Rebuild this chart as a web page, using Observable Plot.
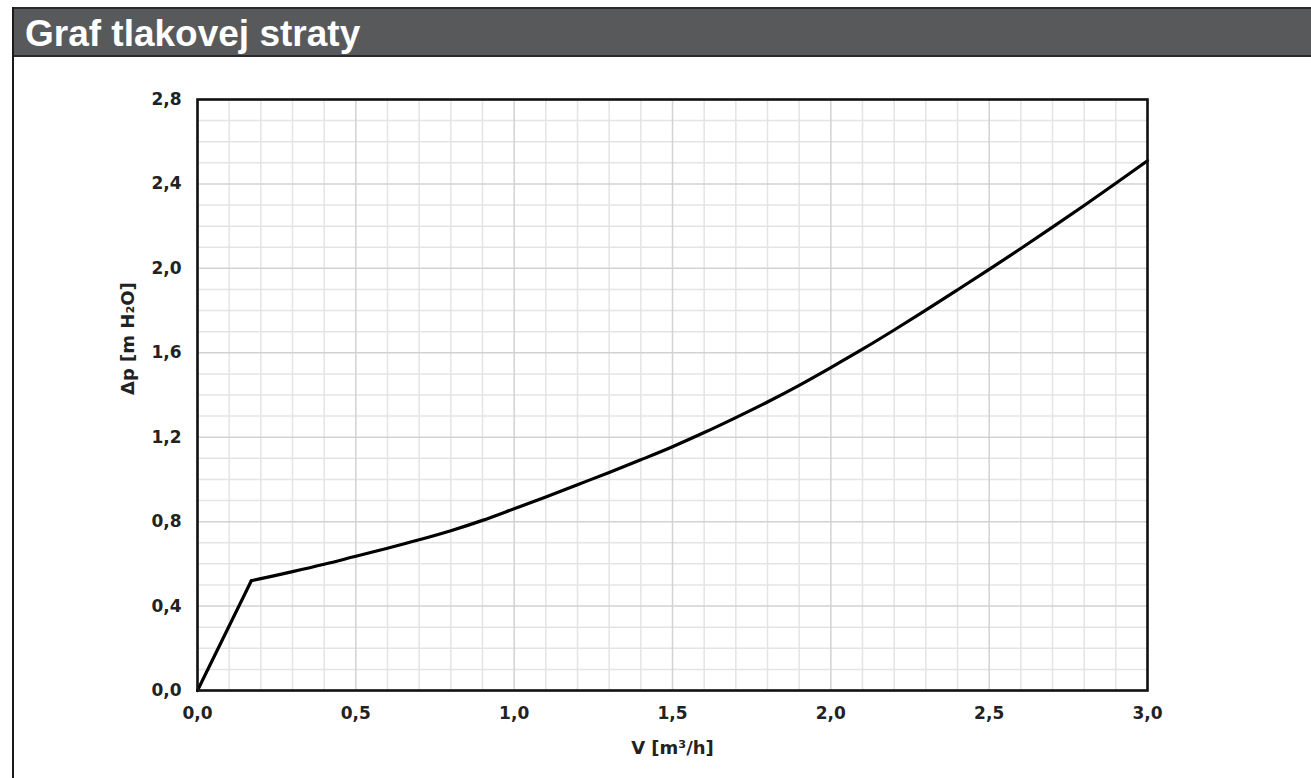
<!DOCTYPE html>
<html>
<head>
<meta charset="utf-8">
<script src="https://cdn.jsdelivr.net/npm/d3@7"></script>
<script src="https://cdn.jsdelivr.net/npm/@observablehq/plot@0.6"></script>
<style>
  html, body { margin: 0; padding: 0; background: #fff; }
  body { width: 1311px; height: 778px; position: relative; overflow: hidden; font-family: "Liberation Sans", Arial, sans-serif; }
  #header { position: absolute; left: 13px; top: 7px; right: 0; height: 46px; background: #58595b; border-top: 2px solid #2a2a2a; border-bottom: 2px solid #2a2a2a; }
  #leftborder { position: absolute; left: 12px; top: 7px; bottom: 0; width: 2px; background: #1a1a1a; }
  #title { position: absolute; left: 25px; top: 16px; font-size: 37px; line-height: 36px; font-weight: bold; color: #fff; white-space: nowrap; }
  #chart { position: absolute; left: 0; top: 60px; }
</style>
</head>
<body>
<div id="header"></div>
<div id="leftborder"></div>
<div id="title">Graf tlakovej straty</div>
<div id="chart"></div>
<script>
// Data
const flow = [0, 0.17, 0.2, 0.3, 0.4, 0.5, 0.6, 0.7, 0.8, 0.9, 1.0, 1.1, 1.2, 1.3, 1.4, 1.5, 1.6, 1.7, 1.8, 1.9, 2.0, 2.1, 2.2, 2.3, 2.4, 2.5, 2.6, 2.7, 2.8, 2.9, 3.0];
const pressureLoss = [0, 0.52, 0.53, 0.563, 0.598, 0.636, 0.674, 0.714, 0.757, 0.806, 0.861, 0.917, 0.975, 1.033, 1.093, 1.155, 1.222, 1.293, 1.367, 1.446, 1.53, 1.617, 1.708, 1.802, 1.898, 1.995, 2.094, 2.195, 2.298, 2.403, 2.51];
const xMajorTicks = [0, 0.5, 1.0, 1.5, 2.0, 2.5, 3.0];
const yMajorTicks = [0, 0.4, 0.8, 1.2, 1.6, 2.0, 2.4, 2.8];
const xMinorTicks = [0.1,0.2,0.3,0.4,0.6,0.7,0.8,0.9,1.1,1.2,1.3,1.4,1.6,1.7,1.8,1.9,2.1,2.2,2.3,2.4,2.6,2.7,2.8,2.9];
const yMinorTicks = [0.1,0.2,0.3,0.5,0.6,0.7,0.9,1.0,1.1,1.3,1.4,1.5,1.7,1.8,1.9,2.1,2.2,2.3,2.5,2.6,2.7];
const xLabel = "V [m³/h]";
const yLabel = "Δp [m H₂O]";

const fmt = d => d.toFixed(1).replace(".", ",");
const rows = flow.map((v, i) => ({v, p: pressureLoss[i]}));
const straight = rows.slice(0, 2);
const curved = rows.slice(1);
const axisFont = "'DejaVu Sans', 'Liberation Sans', sans-serif";

const chart = Plot.plot({
  width: 1311,
  height: 718,
  marginLeft: 197,
  marginRight: 164,
  marginTop: 39,
  marginBottom: 88,
  style: { fontFamily: axisFont, background: "transparent" },
  x: { domain: [0, 3] },
  y: { domain: [0, 2.8] },
  marks: [
    Plot.ruleX(xMinorTicks, { stroke: "#e4e4e4", strokeWidth: 1.5 }),
    Plot.ruleY(yMinorTicks, { stroke: "#e4e4e4", strokeWidth: 1.5 }),
    Plot.ruleX(xMajorTicks, { stroke: "#d2d2d2", strokeWidth: 1.5 }),
    Plot.ruleY(yMajorTicks, { stroke: "#d2d2d2", strokeWidth: 1.5 }),
    Plot.axisX({ ticks: xMajorTicks, tickFormat: fmt, tickSize: 0, tickPadding: 16, fontSize: 17, fontWeight: "bold", fill: "#222", label: null }),
    Plot.axisY({ ticks: yMajorTicks, tickFormat: fmt, tickSize: 0, tickPadding: 16, fontSize: 17, fontWeight: "bold", fill: "#222", label: null }),
    Plot.text([xLabel], { frameAnchor: "bottom", dy: 63, text: d => d, fontSize: 18, fontWeight: "bold", fill: "#222" }),
    Plot.text([yLabel], { frameAnchor: "left", dx: -69, rotate: -90, text: d => d, fontSize: 18, fontWeight: "bold", fill: "#222" }),
    Plot.line(straight, { x: "v", y: "p", stroke: "#000", strokeWidth: 3.2 }),
    Plot.line(curved, { x: "v", y: "p", stroke: "#000", strokeWidth: 3.2, curve: "monotone-x" }),
    Plot.frame({ stroke: "#111", strokeWidth: 2.6 })
  ]
});
document.getElementById("chart").appendChild(chart);
</script>
</body>
</html>
